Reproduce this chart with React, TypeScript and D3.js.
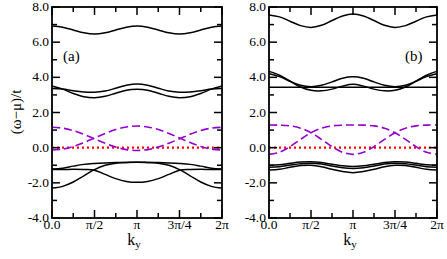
import React from "react";
import * as d3 from "d3";

// ky sampled every pi/8 from 0 to 2pi
const ky = d3.range(17).map((i) => (i * Math.PI) / 8);

const xTicks = [0, Math.PI / 2, Math.PI, (3 * Math.PI) / 2, 2 * Math.PI];
const xTickLabels = ["0.0", "π/2", "π", "3π/4", "2π"];
const yTicks = [-4, -2, 0, 2, 4, 6, 8];
const yTickLabels = ["-4.0", "-2.0", "0.0", "2.0", "4.0", "6.0", "8.0"];

const zero = [0, 0, 0, 0, 0, 0, 0, 0, 0, 0, 0, 0, 0, 0, 0, 0, 0];

// panel (a)
const aTop = [6.92, 6.85, 6.69, 6.53, 6.46, 6.53, 6.69, 6.85, 6.92, 6.85, 6.69, 6.53, 6.46, 6.53, 6.69, 6.85, 6.92];
const aMid1 = [3.51, 3.33, 3.08, 2.9, 2.84, 2.92, 3.1, 3.27, 3.32, 3.27, 3.1, 2.92, 2.84, 2.9, 3.08, 3.33, 3.51];
const aMid2 = [3.37, 3.34, 3.24, 3.17, 3.15, 3.22, 3.38, 3.55, 3.62, 3.55, 3.38, 3.22, 3.15, 3.17, 3.24, 3.34, 3.37];
const aLow1 = [-1.22, -1.17, -1.05, -0.95, -0.9, -0.87, -0.85, -0.84, -0.83, -0.84, -0.85, -0.87, -0.9, -0.95, -1.05, -1.17, -1.22];
const aLow2 = [-1.24, -1.24, -1.23, -1.24, -1.28, -1.52, -1.76, -1.92, -1.97, -1.92, -1.76, -1.52, -1.28, -1.24, -1.23, -1.24, -1.24];
const aLow3 = [-2.3, -2.2, -1.95, -1.6, -1.25, -1.0, -0.88, -0.84, -0.83, -0.84, -0.88, -1.0, -1.25, -1.6, -1.95, -2.2, -2.3];
const aDash1 = [1.16, 1.11, 0.97, 0.76, 0.5, 0.25, 0.03, -0.11, -0.16, -0.11, 0.03, 0.25, 0.5, 0.76, 0.97, 1.11, 1.16];
const aDash2 = [-0.13, -0.08, 0.07, 0.29, 0.55, 0.81, 1.03, 1.18, 1.23, 1.18, 1.03, 0.81, 0.55, 0.29, 0.07, -0.08, -0.13];

// panel (b)
const bTop = [7.55, 7.44, 7.19, 6.94, 6.84, 6.96, 7.23, 7.49, 7.6, 7.49, 7.23, 6.96, 6.84, 6.94, 7.19, 7.44, 7.55];
const bFlat = [3.43, 3.43, 3.43, 3.43, 3.43, 3.43, 3.43, 3.43, 3.43, 3.43, 3.43, 3.43, 3.43, 3.43, 3.43, 3.43, 3.43];
const bMid1 = [4.34, 4.12, 3.78, 3.45, 3.26, 3.23, 3.33, 3.5, 3.6, 3.5, 3.33, 3.23, 3.26, 3.45, 3.78, 4.12, 4.34];
const bMid2 = [4.2, 4.04, 3.78, 3.55, 3.47, 3.55, 3.74, 3.95, 4.03, 3.95, 3.74, 3.55, 3.47, 3.55, 3.78, 4.04, 4.2];
const bLow1 = [-1.0, -0.97, -0.89, -0.82, -0.8, -0.85, -0.94, -1.03, -1.07, -1.03, -0.94, -0.85, -0.8, -0.82, -0.89, -0.97, -1.0];
const bLow2 = [-1.12, -1.08, -0.99, -0.91, -0.88, -0.93, -1.04, -1.14, -1.18, -1.14, -1.04, -0.93, -0.88, -0.91, -0.99, -1.08, -1.12];
const bLow3 = [-1.27, -1.23, -1.12, -1.02, -1.0, -1.08, -1.23, -1.36, -1.42, -1.36, -1.23, -1.08, -1.0, -1.02, -1.12, -1.23, -1.27];
const bDash1 = [1.29, 1.28, 1.24, 1.11, 0.85, 0.47, 0.06, -0.26, -0.38, -0.26, 0.06, 0.47, 0.85, 1.11, 1.24, 1.28, 1.29];
const bDash2 = [-0.38, -0.26, 0.06, 0.47, 0.85, 1.11, 1.24, 1.28, 1.29, 1.28, 1.24, 1.11, 0.85, 0.47, 0.06, -0.26, -0.38];

const textStyle = { fontFamily: '"Liberation Serif", "DejaVu Serif", serif' };
const PURPLE = "#9400d3";

const top = 7;
const bottom = 218;

type PanelProps = {
  left: number;
  right: number;
  label: string;
  labelX: number;
  solid: number[][];
  dashed: number[][];
};

const Panel = ({ left, right, label, labelX, solid, dashed }: PanelProps) => {
  const x = d3.scaleLinear().domain([0, 2 * Math.PI]).range([left, right]);
  const y = d3.scaleLinear().domain([-4, 8]).range([bottom, top]);
  const line = d3
    .line<number>()
    .x((_, i) => x(ky[i]))
    .y((d) => y(d))
    .curve(d3.curveCatmullRom);

  const xMinor = d3.range(9).map((i) => (i * Math.PI) / 4).filter((v, i) => i % 2 === 1);
  const yMinor = d3.range(-3, 8, 2);

  return (
    <g>
      {/* red dotted zero line */}
      <path d={line(zero) ?? ""} fill="none" stroke="#ff0000" strokeWidth={2.2} strokeDasharray="2 3" />
      {dashed.map((s, i) => (
        <path key={"d" + i} d={line(s) ?? ""} fill="none" stroke={PURPLE} strokeWidth={1.6} strokeDasharray="8 4" />
      ))}
      {solid.map((s, i) => (
        <path key={"s" + i} d={line(s) ?? ""} fill="none" stroke="#000" strokeWidth={1.5} />
      ))}

      {/* frame */}
      <rect x={left} y={top} width={right - left} height={bottom - top} fill="none" stroke="#000" strokeWidth={1.8} />

      {/* x ticks on bottom and top */}
      {xTicks.map((t, i) => (
        <g key={"xt" + i}>
          <line x1={x(t)} x2={x(t)} y1={bottom} y2={bottom - 8} stroke="#000" strokeWidth={1.5} />
          <line x1={x(t)} x2={x(t)} y1={top} y2={top + 8} stroke="#000" strokeWidth={1.5} />
          <text x={x(t)} y={229} textAnchor="middle" style={textStyle} fontSize={13.5}>
            {xTickLabels[i]}
          </text>
        </g>
      ))}
      {xMinor.map((t, i) => (
        <g key={"xm" + i}>
          <line x1={x(t)} x2={x(t)} y1={bottom} y2={bottom - 5} stroke="#000" strokeWidth={1.5} />
          <line x1={x(t)} x2={x(t)} y1={top} y2={top + 5} stroke="#000" strokeWidth={1.5} />
        </g>
      ))}

      {/* y ticks on left and right */}
      {yTicks.map((t, i) => (
        <g key={"yt" + i}>
          <line x1={left} x2={left + 8} y1={y(t)} y2={y(t)} stroke="#000" strokeWidth={1.5} />
          <line x1={right} x2={right - 8} y1={y(t)} y2={y(t)} stroke="#000" strokeWidth={1.5} />
          <text x={left - 3} y={y(t)} dy="0.3em" textAnchor="end" style={textStyle} fontSize={13.5}>
            {yTickLabels[i]}
          </text>
        </g>
      ))}
      {yMinor.map((t, i) => (
        <g key={"ym" + i}>
          <line x1={left} x2={left + 5} y1={y(t)} y2={y(t)} stroke="#000" strokeWidth={1.5} />
          <line x1={right} x2={right - 5} y1={y(t)} y2={y(t)} stroke="#000" strokeWidth={1.5} />
        </g>
      ))}

      <text x={labelX} y={61} style={textStyle} fontSize={15}>
        {label}
      </text>
      <text x={(left + right) / 2 - 3} y={245} textAnchor="middle" style={textStyle} fontSize={16}>
        k
        <tspan fontSize={11} dy={3}>
          y
        </tspan>
      </text>
    </g>
  );
};

export default function App() {
  return (
    <svg
      width={447}
      height={259}
      viewBox="0 0 447 259"
      style={{ position: "absolute", left: 0, top: 0, background: "#fff" }}
    >
      <Panel
        left={52}
        right={222}
        label="(a)"
        labelX={63}
        solid={[aTop, aMid1, aMid2, aLow1, aLow2, aLow3]}
        dashed={[aDash1, aDash2]}
      />
      <Panel
        left={269}
        right={437}
        label="(b)"
        labelX={405}
        solid={[bTop, bFlat, bMid1, bMid2, bLow1, bLow2, bLow3]}
        dashed={[bDash1, bDash2]}
      />
      <text transform="translate(21,112) rotate(-90)" textAnchor="middle" style={textStyle} fontSize={15}>
        (ω−μ)/t
      </text>
    </svg>
  );
}
